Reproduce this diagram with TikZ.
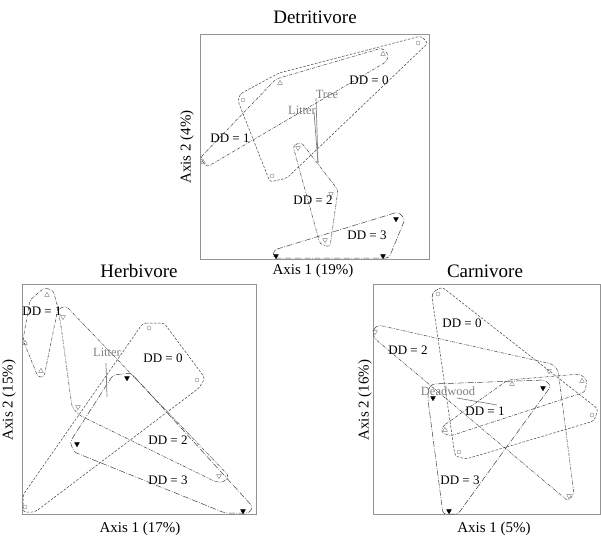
\documentclass[tikz,border=0pt]{standalone}
\usepackage{fontspec}
\setmainfont{Liberation Serif}
\usepackage{tikz}
\usetikzlibrary{shapes,arrows}
\tikzstyle{frame} = [draw=gray!85, line width=0.9pt]
\tikzstyle{title} = [font=\fontsize{19}{20}\selectfont]
\tikzstyle{axislab} = [font=\fontsize{15}{16}\selectfont]
\tikzstyle{ddlab} = [font=\fontsize{13}{14}\selectfont, inner sep=1pt]
\tikzstyle{veclab} = [font=\fontsize{12.5}{13}\selectfont, text=gray, inner sep=1pt]
\tikzstyle{vector} = [draw, gray, line width=0.7pt]
\tikzstyle{hull} = [draw=black!75, line width=0.5pt, rounded corners=3pt]
\tikzstyle{ddzero} = [hull, dash pattern=on 2.5pt off 1.5pt]
\tikzstyle{ddone} = [hull, dash pattern=on 3pt off 1.2pt on 0.6pt off 1.2pt]
\tikzstyle{ddtwo} = [hull, dash pattern=on 3pt off 1pt on 0.6pt off 1pt on 0.6pt off 1pt]
\tikzstyle{ddthree} = [hull, dash pattern=on 6pt off 1.5pt on 0.8pt off 1.5pt]
\tikzstyle{circmark} = [circle, draw=gray, line width=0.4pt,
    inner sep=0pt, minimum size=4pt]
\tikzstyle{upmark} = [regular polygon, regular polygon sides=3, draw=gray,
    line width=0.4pt, inner sep=0pt, minimum size=5.5pt]
\tikzstyle{downmark} = [upmark, shape border rotate=180]
\tikzstyle{fillmark} = [downmark, draw=black, fill=black]

\begin{document}
\begin{tikzpicture}[x=1pt, y=-1pt]
\useasboundingbox (0,0) rectangle (601,537);

    % Detritivore
\draw [frame] (200,34) rectangle (429,259);
\node[title] (ttitle) at (315,17) {Detritivore};
\node[axislab] (tx) at (313,271) {Axis 1 (19\%)};
\node[axislab, rotate=90] (ty) at (187,147) {Axis 2 (4\%)};
\path [ddzero] (421,36) -- (428,43) -- (287,178) -- (270,182) -- (238,101)
  -- (240,94) -- (279,73) -- cycle;
\path [ddone] (200,158) -- (276,79) -- (382,48) -- (389,55) -- (386,62)
  -- (207,167) -- cycle;
\path [ddtwo] (293,146) -- (301,142) -- (338,190) -- (330,247) -- (320,244)
  -- cycle;
\path [ddthree] (274,250) -- (398,212) -- (405,219) -- (389,258) -- (273,258)
  -- cycle;
\node[circmark] (t0a) at (418,43) {}; \node[circmark] (t0b) at (243,100) {};
\node[circmark] (t0c) at (272,176) {};
\node[upmark] (t1a) at (203,162) {}; \node[upmark] (t1b) at (280,83) {};
\node[upmark] (t1c) at (383,54) {};
\node[downmark] (t2a) at (298,148) {}; \node[downmark] (t2b) at (331,194) {};
\node[downmark] (t2c) at (325,240) {};
\node[fillmark] (t3a) at (396,219) {}; \node[fillmark] (t3b) at (276,256) {};
\node[fillmark] (t3c) at (383,256) {};
\coordinate (torig) at (318,163);
\coordinate (ttree) at (316,98); \coordinate (tlitter) at (314,112);
\path [vector] (torig) -- (ttree);
\path [vector] (torig) -- (tlitter);
\node[veclab] (ttreelab) at (327,94) {Tree};
\node[veclab] (tlitterlab) at (302,110) {Litter};
\node[ddlab] (tdd0) at (369,80) {DD = 0};
\node[ddlab] (tdd1) at (230,138) {DD = 1};
\node[ddlab] (tdd2) at (313,200) {DD = 2};
\node[ddlab] (tdd3) at (367,235) {DD = 3};

    % Herbivore
\draw [frame] (22,284) rectangle (256,514);
\node[title] (htitle) at (139,271) {Herbivore};
\node[axislab] (hx) at (140,529) {Axis 1 (17\%)};
\node[axislab, rotate=90] (hy) at (9,400) {Axis 2 (15\%)};
\path [ddzero] (143,323) -- (164,323) -- (205,378) -- (199,388) -- (35,512)
  -- (23,512) -- (23,495) -- cycle;
\path [ddone] (44,288) -- (53,290) -- (58,308) -- (44,377) -- (38,377)
  -- (23,340) -- (30,300) -- cycle;
\path [ddtwo] (58,309) -- (66,306) -- (229,476) -- (224,482) -- (216,482)
  -- (79,415) -- (72,407) -- (61,326) -- cycle;
\path [ddthree] (113,375) -- (131,373) -- (253,507) -- (249,513) -- (225,513)
  -- (74,452) -- (70,442) -- cycle;
\node[circmark] (h0a) at (149,328) {}; \node[circmark] (h0b) at (197,380) {};
\node[circmark] (h0c) at (25,507) {};
\node[upmark] (h1a) at (47,295) {}; \node[upmark] (h1b) at (25,343) {};
\node[upmark] (h1c) at (41,371) {};
\node[downmark] (h2a) at (63,317) {}; \node[downmark] (h2b) at (78,407) {};
\node[downmark] (h2c) at (219,476) {};
\node[fillmark] (h3a) at (127,378) {}; \node[fillmark] (h3b) at (77,444) {};
\node[fillmark] (h3c) at (243,511) {};
\coordinate (horig) at (107,397); \coordinate (hlitter) at (106,363);
\path [vector] (horig) -- (hlitter);
\node[veclab] (hlitterlab) at (107,352) {Litter};
\node[ddlab] (hdd0) at (163,358) {DD = 0};
\node[ddlab] (hdd1) at (42,311) {DD = 1};
\node[ddlab] (hdd2) at (168,440) {DD = 2};
\node[ddlab] (hdd3) at (168,480) {DD = 3};

    % Carnivore
\draw [frame] (373,284) rectangle (600,514);
\node[title] (ctitle) at (485,271) {Carnivore};
\node[axislab] (cx) at (494,529) {Axis 1 (5\%)};
\node[axislab, rotate=90] (cy) at (365,400) {Axis 2 (16\%)};
\path [ddzero] (433,292) -- (442,287) -- (598,409) -- (594,421) -- (466,459)
  -- (455,456) -- (432,297) -- cycle;
\path [ddone] (443,426) -- (508,380) -- (580,374) -- (587,380) -- (585,392)
  -- (450,436) -- (441,432) -- cycle;
\path [ddtwo] (373,330) -- (378,325) -- (552,364) -- (558,370) -- (574,494)
  -- (568,501) -- (374,338) -- cycle;
\path [ddthree] (428,390) -- (432,384) -- (545,380) -- (551,386) -- (458,514)
  -- (443,514) -- (428,400) -- cycle;
\node[circmark] (c0a) at (438,294) {}; \node[circmark] (c0b) at (592,415) {};
\node[circmark] (c0c) at (459,452) {};
\node[upmark] (c1a) at (445,430) {}; \node[upmark] (c1b) at (512,384) {};
\node[upmark] (c1c) at (582,381) {};
\node[downmark] (c2a) at (375,332) {}; \node[downmark] (c2b) at (549,371) {};
\node[downmark] (c2c) at (569,496) {};
\node[fillmark] (c3a) at (433,398) {}; \node[fillmark] (c3b) at (543,388) {};
\node[fillmark] (c3c) at (449,511) {};
\coordinate (corig) at (497,405); \coordinate (cdead) at (457,398);
\path [vector] (corig) -- (cdead);
\node[veclab] (cdeadlab) at (448,391) {Deadwood};
\node[ddlab] (cdd0) at (462,323) {DD = 0};
\node[ddlab] (cdd1) at (485,411) {DD = 1};
\node[ddlab] (cdd2) at (408,350) {DD = 2};
\node[ddlab] (cdd3) at (460,480) {DD = 3};

\end{tikzpicture}
\end{document}
